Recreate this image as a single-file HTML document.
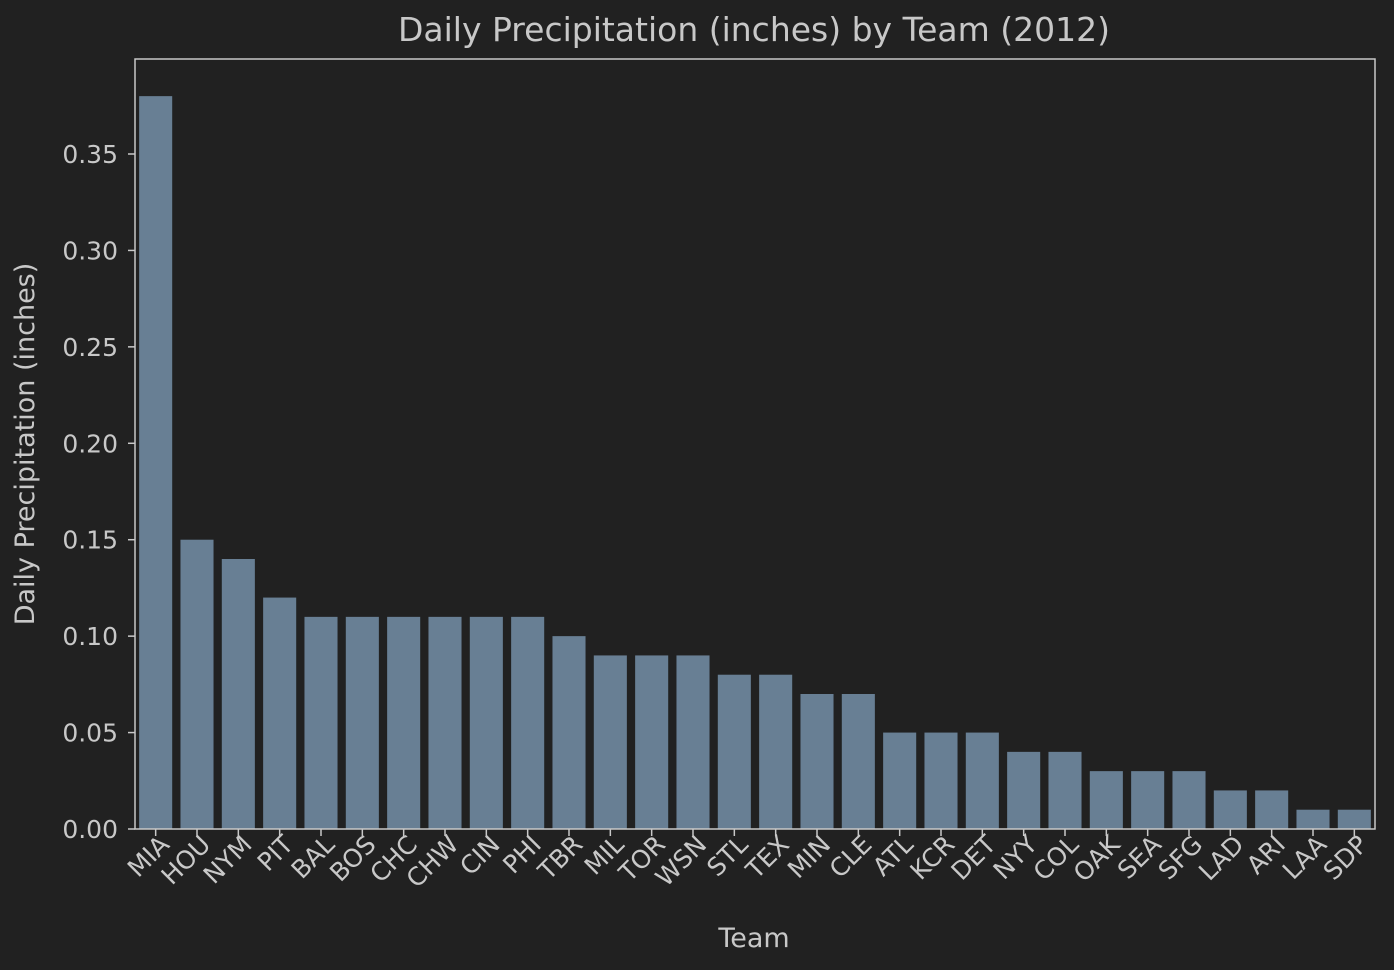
<!DOCTYPE html>
<html><head><meta charset="utf-8"><style>
html,body{margin:0;padding:0;background:#212121;}
svg{display:block;font-family:"DejaVu Sans","Liberation Sans",sans-serif;}
</style></head><body>
<svg id="chart" width="1394" height="970" viewBox="0 0 1394 970" xmlns="http://www.w3.org/2000/svg">
<rect width="1394" height="970" fill="#212121"/>
<text x="754" y="41" text-anchor="middle" font-size="33" fill="#c8c8c8">Daily Precipitation (inches) by Team (2012)</text>
<text transform="translate(34,444) rotate(-90)" text-anchor="middle" font-size="27" fill="#c8c8c8">Daily Precipitation (inches)</text>
<text x="754" y="947" text-anchor="middle" font-size="27" fill="#c8c8c8">Team</text>
<g id="bars"></g>
<g id="yticks"></g>
<g id="xticks"></g>
<rect x="135" y="59" width="1240" height="770" fill="none" stroke="#c8c8c8" stroke-width="1.5"/>
</svg>
<script>
const teams=["MIA","HOU","NYM","PIT","BAL","BOS","CHC","CHW","CIN","PHI","TBR","MIL","TOR","WSN","STL","TEX","MIN","CLE","ATL","KCR","DET","NYY","COL","OAK","SEA","SFG","LAD","ARI","LAA","SDP"];
const precip=[0.38,0.15,0.14,0.12,0.11,0.11,0.11,0.11,0.11,0.11,0.10,0.09,0.09,0.09,0.08,0.08,0.07,0.07,0.05,0.05,0.05,0.04,0.04,0.03,0.03,0.03,0.02,0.02,0.01,0.01];
const yTicks=[0,0.05,0.10,0.15,0.20,0.25,0.30,0.35];
const yTickLabels=["0.00","0.05","0.10","0.15","0.20","0.25","0.30","0.35"];
const NS="http://www.w3.org/2000/svg";
const L=135,R=1375,B=829,Y35=154;
const band=(R-L)/teams.length;
function xCenter(i){return L+band*(i+0.5);}
function y(v){return B-(B-Y35)*v/0.35;}
const gb=document.getElementById('bars'),gy=document.getElementById('yticks'),gx=document.getElementById('xticks');
precip.forEach((v,i)=>{
  const r=document.createElementNS(NS,'rect');
  const w=band*0.8;
  r.setAttribute('x',xCenter(i)-w/2);r.setAttribute('y',y(v));
  r.setAttribute('width',w);r.setAttribute('height',B-y(v));
  r.setAttribute('fill','#687f94');
  
  
  gb.appendChild(r);
});
yTicks.forEach((t,i)=>{
  const ln=document.createElementNS(NS,'line');
  ln.setAttribute('x1',L-7);ln.setAttribute('x2',L);ln.setAttribute('y1',y(t));ln.setAttribute('y2',y(t));
  ln.setAttribute('stroke','#c8c8c8');ln.setAttribute('stroke-width','1.5');
  
  
  gy.appendChild(ln);
  const tx=document.createElementNS(NS,'text');
  tx.setAttribute('x',L-17);tx.setAttribute('y',y(t)+9);tx.setAttribute('text-anchor','end');
  tx.setAttribute('font-size','25');tx.setAttribute('fill','#c8c8c8');
  tx.textContent=yTickLabels[i];
  
  
  gy.appendChild(tx);
});
teams.forEach((t,i)=>{
  const cx=xCenter(i);
  const ln=document.createElementNS(NS,'line');
  ln.setAttribute('x1',cx);ln.setAttribute('x2',cx);ln.setAttribute('y1',B);ln.setAttribute('y2',B+7);
  ln.setAttribute('stroke','#c8c8c8');ln.setAttribute('stroke-width','1.5');
  
  
  gx.appendChild(ln);
  const tx=document.createElementNS(NS,'text');
  tx.setAttribute('transform','translate('+(cx+15)+','+(B+17)+') rotate(-45)');
  tx.setAttribute('text-anchor','end');
  tx.setAttribute('font-size','25');tx.setAttribute('fill','#c8c8c8');
  tx.textContent=t;
  
  
  gx.appendChild(tx);
});
</script>
</body></html>
